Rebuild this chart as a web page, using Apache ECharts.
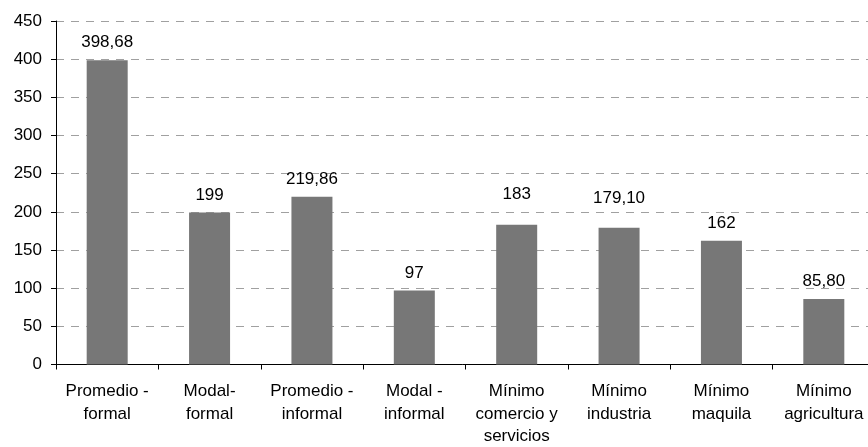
<!DOCTYPE html>
<html>
<head>
<meta charset="utf-8">
<script src="https://cdn.jsdelivr.net/npm/echarts@6/dist/echarts.min.js"></script>
<style>
  html, body { margin: 0; padding: 0; background: #fff; }
  #chart { width: 868px; height: 447px; }
</style>
</head>
<body>
<div id="chart"></div>
<script>
// Category names (line breaks as shown under the axis)
const categories = [
  'Promedio -\nformal',
  'Modal-\nformal',
  'Promedio -\ninformal',
  'Modal -\ninformal',
  'Mínimo\ncomercio y\nservicios',
  'Mínimo\nindustria',
  'Mínimo\nmaquila',
  'Mínimo\nagricultura'
];

// Value labels as printed (decimal comma); bar heights are parsed from them
const valueLabels = ['398,68', '199', '219,86', '97', '183', '179,10', '162', '85,80'];
const values = valueLabels.map(s => parseFloat(s.replace(',', '.')));

// Y axis scale
const yMin = 0;
const yMax = 450;
const yStep = 50;

const chart = echarts.init(document.getElementById('chart'), null, { renderer: 'canvas' });

const font = 'Arial, "Liberation Sans", sans-serif';

// Labels over the two middle "Mínimo" bars sit a little higher
const raisedLabels = { 4: 22, 5: 21 };

const seriesData = values.map((v, i) => {
  const item = { value: v };
  if (raisedLabels[i] !== undefined) {
    item.label = { distance: raisedLabels[i] };
  }
  return item;
});

chart.setOption({
  animation: false,
  backgroundColor: '#ffffff',
  grid: {
    left: 56, right: -7, top: 21, bottom: 82.5,
    containLabel: false,
    outerBoundsMode: 'none'
  },
  xAxis: {
    type: 'category',
    data: categories,
    axisLine: { lineStyle: { color: '#000', width: 1 } },
    axisTick: { show: true, length: 5, lineStyle: { color: '#000' } },
    axisLabel: {
      color: '#000',
      fontFamily: font,
      fontSize: 17,
      lineHeight: 22.5,
      margin: 16,
      interval: 0
    },
    splitLine: { show: false }
  },
  yAxis: {
    type: 'value',
    min: yMin,
    max: yMax,
    interval: yStep,
    axisLine: { show: true, lineStyle: { color: '#000', width: 1 } },
    axisTick: { show: true, length: 5, lineStyle: { color: '#000' } },
    axisLabel: {
      color: '#000',
      fontFamily: font,
      fontSize: 17,
      margin: 14
    },
    splitLine: {
      show: true,
      lineStyle: { color: '#a0a0a0', type: [8, 7], width: 1 }
    }
  },
  series: [{
    type: 'bar',
    data: seriesData,
    barWidth: 41,
    itemStyle: { color: '#777777' },
    label: {
      show: true,
      position: 'top',
      distance: 9,
      color: '#000',
      fontFamily: font,
      fontSize: 17,
      formatter: p => valueLabels[p.dataIndex]
    }
  }]
});
</script>
</body>
</html>
